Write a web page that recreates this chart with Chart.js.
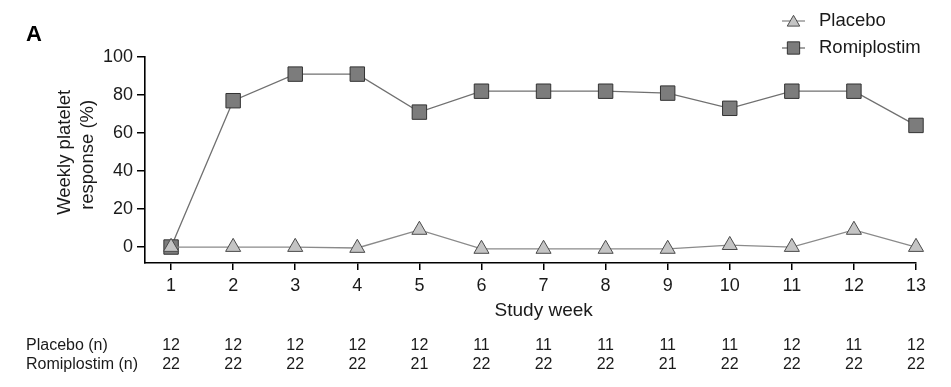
<!DOCTYPE html>
<html>
<head>
<meta charset="utf-8">
<script src="https://cdn.jsdelivr.net/npm/chart.js@4/dist/chart.umd.min.js"></script>
<style>
  html, body { margin: 0; padding: 0; background: #fff; }
  #wrap { width: 951px; height: 387px; position: relative; }
</style>
</head>
<body>
<div id="wrap"><canvas id="chart"></canvas></div>
<script>
// Data
const weeks = [1, 2, 3, 4, 5, 6, 7, 8, 9, 10, 11, 12, 13];
const placebo = [0, 0, 0, -0.5, 9, -1, -1, -1, -1, 1, 0, 9, 0];
const romiplostim = [0, 77, 91, 91, 71, 82, 82, 82, 81, 73, 82, 82, 64];
const yTicks = [0, 20, 40, 60, 80, 100];
const placeboN = [12, 12, 12, 12, 12, 11, 11, 11, 11, 11, 12, 11, 12];
const romiplostimN = [22, 22, 22, 22, 21, 22, 22, 22, 21, 22, 22, 22, 22];

const FONT = "'Liberation Sans', Arial, sans-serif";
const TEXT = '#1a1a1a';

const placeboStyle = { line: '#8a8a8a', fill: '#c4c4c4', edge: '#4a4a4a', shape: 'triangle', r: 8.7 };
const romiStyle = { line: '#707070', fill: '#7c7c7c', edge: '#333333', shape: 'rect', r: 10.2 };

// Panel letter, legend and the n table under the x axis
const extras = {
    id: 'extras',
    afterDraw(chart) {
        const ctx = chart.ctx;
        const x = chart.scales.x;
        ctx.save();

        ctx.fillStyle = '#000';
        ctx.font = 'bold 22px ' + FONT;
        ctx.textBaseline = 'alphabetic';
        ctx.textAlign = 'left';
        ctx.fillText('A', 26, 41);

        // legend
        const entries = [
            { label: 'Placebo', st: placeboStyle, y: 21 },
            { label: 'Romiplostim', st: romiStyle, y: 48 }
        ];
        entries.forEach(e => {
            ctx.strokeStyle = e.st.line;
            ctx.lineWidth = 1.3;
            ctx.beginPath();
            ctx.moveTo(782, e.y);
            ctx.lineTo(805, e.y);
            ctx.stroke();
            ctx.fillStyle = e.st.fill;
            ctx.strokeStyle = e.st.edge;
            ctx.lineWidth = 1;
            Chart.helpers.drawPoint(ctx, { pointStyle: e.st.shape, radius: e.st.r - 1.5, borderWidth: 1 }, 793.5, e.y + (e.st.shape === 'triangle' ? 1.5 : 0));
            ctx.fillStyle = TEXT;
            ctx.font = '18.5px ' + FONT;
            ctx.textAlign = 'left';
            ctx.textBaseline = 'middle';
            ctx.fillText(e.label, 819, e.y);
        });

        // n table
        ctx.font = '16px ' + FONT;
        ctx.fillStyle = TEXT;
        ctx.textBaseline = 'middle';
        ctx.textAlign = 'left';
        ctx.fillText('Placebo (n)', 26, 346);
        ctx.fillText('Romiplostim (n)', 26, 365);
        ctx.textAlign = 'center';
        weeks.forEach((w, i) => {
            const px = x.getPixelForValue(w);
            ctx.fillText(String(placeboN[i]), px, 346);
            ctx.fillText(String(romiplostimN[i]), px, 365);
        });
        ctx.restore();
    }
};

function series(label, values, st) {
    return {
        label: label,
        data: weeks.map((w, i) => ({ x: w, y: values[i] })),
        borderColor: st.line,
        borderWidth: 1.3,
        pointStyle: st.shape,
        pointRadius: st.r,
        pointBackgroundColor: st.fill,
        pointBorderColor: st.edge,
        pointBorderWidth: 1,
        tension: 0,
        clip: false
    };
}

new Chart(document.getElementById('chart'), {
    type: 'line',
    data: {
        datasets: [
            series('Placebo', placebo, placeboStyle),
            series('Romiplostim', romiplostim, romiStyle)
        ]
    },
    options: {
        responsive: true,
        maintainAspectRatio: false,
        animation: false,
        layout: { padding: { top: 57, right: 35, bottom: 0, left: 0 } },
        plugins: {
            legend: { display: false },
            tooltip: { enabled: false }
        },
        scales: {
            x: {
                type: 'linear',
                min: 0.58,
                max: 13,
                afterBuildTicks: s => { s.ticks = weeks.map(v => ({ value: v })); },
                afterFit: s => { s.height = 124; },
                grid: { display: true, drawOnChartArea: false, drawTicks: true, tickLength: 7, color: '#000', lineWidth: 1.5 },
                border: { display: true, color: '#000', width: 1.6 },
                ticks: { color: TEXT, font: { family: FONT, size: 18 }, padding: 5, maxRotation: 0 },
                title: {
                    display: true,
                    // leading spaces centre the title over the tick range like the figure
                    text: '     Study week',
                    color: TEXT,
                    font: { family: FONT, size: 19, lineHeight: 1.25 },
                    padding: { top: 0, bottom: 64 }
                }
            },
            y: {
                min: -8.4,
                max: 100,
                afterBuildTicks: s => { s.ticks = yTicks.map(v => ({ value: v })); },
                afterFit: s => { s.width = 145; },
                grid: { display: true, drawOnChartArea: false, drawTicks: true, tickLength: 8, color: '#000', lineWidth: 1.5 },
                border: { display: true, color: '#000', width: 1.6 },
                ticks: { color: TEXT, font: { family: FONT, size: 18 }, padding: 4 },
                title: {
                    display: true,
                    // leading spaces nudge the rotated title up, as in the figure
                    text: ['   Weekly platelet', '  response (%)'],
                    color: TEXT,
                    font: { family: FONT, size: 18.5, lineHeight: 1.25 },
                    padding: { top: 53, bottom: 0 }
                }
            }
        }
    },
    plugins: [extras]
});
</script>
</body>
</html>
